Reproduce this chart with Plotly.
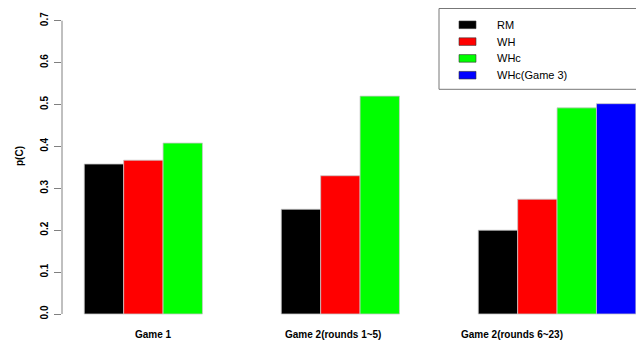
import plotly.graph_objects as go

# Cooperation rate p(C) by game phase and condition
groups = ["Game 1", "Game 2(rounds 1~5)", "Game 2(rounds 6~23)"]
series = ["RM", "WH", "WHc", "WHc(Game 3)"]
rm = [0.358, 0.250, 0.200]
wh = [0.367, 0.330, 0.274]
whc = [0.408, 0.520, 0.492]
whc_game3 = [None, None, 0.502]
y_ticks = [0.0, 0.1, 0.2, 0.3, 0.4, 0.5, 0.6, 0.7]

values = [rm, wh, whc, whc_game3]
colors = ["#000000", "#ff0000", "#00ff00", "#0000ff"]

W, H = 636, 344
ML, MR, MT, MB = 62, 0, 10, 20
PW, PH = W - ML - MR, H - MT - MB


def px_x(px):
    return (px - ML) / PW


def px_y(py):
    return (H - MB - py) / PH


fig = go.Figure()
for name, vals, col in zip(series, values, colors):
    fig.add_trace(go.Bar(
        x=groups, y=vals, name=name,
        marker=dict(color=col, line=dict(color="#c8c8c8", width=0.8)),
        showlegend=False,
    ))

# group labels below the bars (offset from category centres)
label_offsets = [-0.05, -0.138, -0.227]
annotations = []
for i, (g, off) in enumerate(zip(groups, label_offsets)):
    annotations.append(dict(
        x=i + off, y=px_y(334), xref="x", yref="paper",
        text=g, showarrow=False, xanchor="center", yanchor="middle",
        font=dict(family="Liberation Sans, Arial", size=10, color="#000", weight="bold"),
    ))

# y-axis title
annotations.append(dict(
    x=px_x(19), y=px_y(156), xref="paper", yref="paper",
    text="p(C)", showarrow=False, textangle=-90,
    xanchor="center", yanchor="middle",
    font=dict(family="Liberation Sans, Arial", size=10, color="#000", weight="bold"),
))

shapes = []
# y-axis line from 0 to 0.7
shapes.append(dict(type="line", xref="paper", yref="y", x0=0, x1=0,
                   y0=y_ticks[0], y1=y_ticks[-1],
                   line=dict(color="#808080", width=1)))

# legend box
shapes.append(dict(type="rect", xref="paper", yref="paper",
                   x0=px_x(439), x1=px_x(660), y0=px_y(89.3), y1=px_y(8.5),
                   line=dict(color="#777777", width=1), fillcolor="rgba(0,0,0,0)"))
row_y = [24.8, 41.6, 58.4, 75.2]
for name, col, ry in zip(series, colors, row_y):
    shapes.append(dict(type="rect", xref="paper", yref="paper",
                       x0=px_x(459), x1=px_x(476), y0=px_y(ry + 3.8), y1=px_y(ry - 3.8),
                       line=dict(color="#333333", width=0.6), fillcolor=col))
    annotations.append(dict(
        x=px_x(495), y=px_y(ry), xref="paper", yref="paper",
        text=name, showarrow=False, xanchor="left", yanchor="middle",
        font=dict(family="Liberation Sans, Arial", size=11, color="#000"),
    ))

x_left = -0.513
unit = 197.0
fig.update_layout(
    width=W, height=H,
    margin=dict(l=ML, r=MR, t=MT, b=MB),
    paper_bgcolor="white", plot_bgcolor="white",
    barmode="group", bargap=0.2, bargroupgap=0,
    xaxis=dict(type="category", range=[x_left, x_left + PW / unit],
               showticklabels=False, showline=False, showgrid=False,
               zeroline=False, ticks=""),
    yaxis=dict(range=[-10 / 419, 304 / 419], tickvals=y_ticks,
               ticktext=[f"{v:.1f}" for v in y_ticks],
               tickangle=-90, ticks="outside", ticklen=7, tickcolor="#808080",
               tickwidth=1, showline=False, showgrid=False, zeroline=False,
               ticklabelstandoff=2,
               tickfont=dict(family="Liberation Sans, Arial", size=10, color="#000", weight="bold")),
    shapes=shapes,
    annotations=annotations,
)

fig.write_html("out.html")
